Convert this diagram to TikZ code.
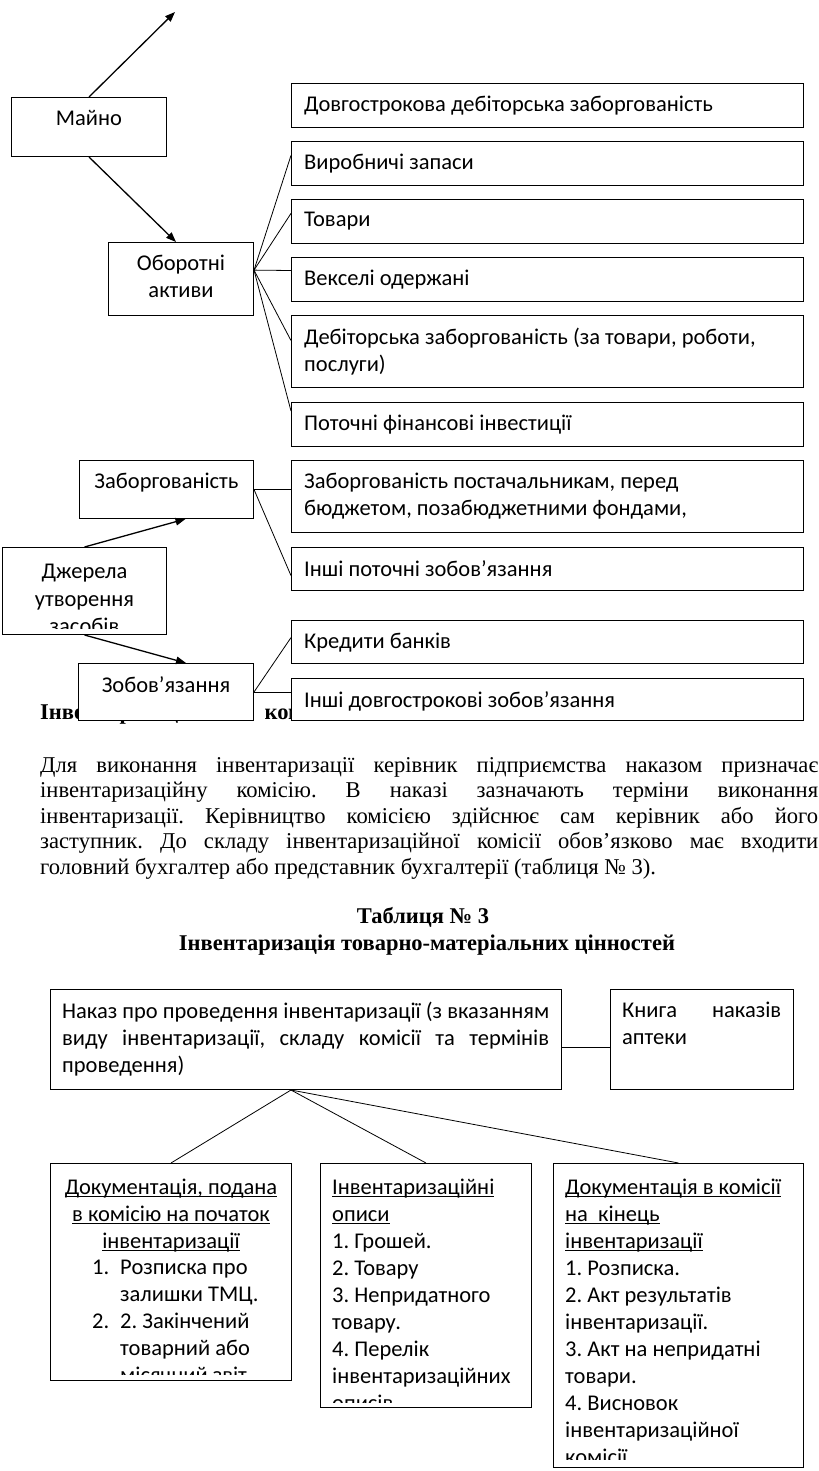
\documentclass[tikz,border=0pt]{standalone}
\usepackage{fontspec}
\setmainfont{Liberation Serif}
\newfontfamily\boxfont{Carlito}
\usetikzlibrary{arrows.meta,calc}
\newcommand{\uln}[1]{\setbox0\hbox{#1}\rlap{\rule[-2.5pt]{\wd0}{1pt}}\box0}
\frenchspacing

\tikzset{
  panel/.style={draw, line width=1pt, fill=white, anchor=north west, inner sep=0pt},
  lbl/.style={font=\boxfont\fontsize{22.5}{26.8}\selectfont, inner sep=0pt, anchor=north west, align=left},
  clbl/.style={lbl, anchor=north, align=center},
  link/.style={line width=0.8pt},
  arr/.style={line width=1.3pt, -{Triangle[length=10pt,width=7.5pt]}},
  para/.style={font=\fontsize{22.6}{25.5}\selectfont, inner sep=0pt, anchor=north west, text width=778pt, align=justify},
  heading/.style={font=\bfseries\fontsize{22.5}{26}\selectfont, inner sep=0pt},
}

\begin{document}
\begin{tikzpicture}[x=1pt,y=1pt]
\path[fill=white] (0,0) rectangle (816,-1471);

% heading partly under the boxes
\node[heading, anchor=base west] (sect) at (40,-719) {Інвентаризаційна\hspace{43pt}комісія};

% upper scheme
\node[panel, minimum width=155, minimum height=59] (maino) at (11,-97) {};
\node[clbl] (maino-t) at ([yshift=-13.3]maino.north) {Майно};
\coordinate (up) at (175,-12);

\node[panel, minimum width=145, minimum height=73] (oborot) at (108,-242) {};
\node[clbl] (oborot-t) at ([yshift=-13.3]oborot.north) {Оборотні\\активи};

\node[panel, minimum width=512, minimum height=44] (dolg) at (291,-83) {};
\node[lbl] (dolg-t) at ([shift={(13,-13.3)}]dolg.north west) {Довгострокова дебіторська заборгованість};
\node[panel, minimum width=512, minimum height=44] (vyrob) at (291,-141) {};
\node[lbl] (vyrob-t) at ([shift={(13,-13.3)}]vyrob.north west) {Виробничі запаси};
\node[panel, minimum width=512, minimum height=44] (tovary) at (291,-199) {};
\node[lbl] (tovary-t) at ([shift={(13,-13.3)}]tovary.north west) {Товари};
\node[panel, minimum width=512, minimum height=44] (veks) at (291,-257) {};
\node[lbl] (veks-t) at ([shift={(13,-13.3)}]veks.north west) {Векселі одержані};
\node[panel, minimum width=512, minimum height=72] (debit) at (291,-315) {};
\node[lbl] (debit-t) at ([shift={(13,-13.3)}]debit.north west) {Дебіторська заборгованість (за товари, роботи,\\послуги)};
\node[panel, minimum width=512, minimum height=44] (potoch) at (291,-402) {};
\node[lbl] (potoch-t) at ([shift={(13,-13.3)}]potoch.north west) {Поточні фінансові інвестиції};

\node[panel, minimum width=174, minimum height=58] (zaborg) at (79,-460) {};
\node[clbl] (zaborg-t) at ([yshift=-13.3]zaborg.north) {Заборгованість};
\node[panel, minimum width=512, minimum height=72] (zabpost) at (291,-460) {};
\node[lbl] (zabpost-t) at ([shift={(13,-13.3)}]zabpost.north west) {Заборгованість постачальникам, перед\\бюджетом, позабюджетними фондами,};
\node[panel, minimum width=512, minimum height=43] (insh) at (291,-547) {};
\node[lbl] (insh-t) at ([shift={(13,-13.3)}]insh.north west) {Інші поточні зобов’язання};

\node[panel, minimum width=164, minimum height=87] (dzher) at (2,-547) {};
\begin{scope}
  \clip ([yshift=7]dzher.south west) rectangle (dzher.north east);
  \node[clbl, font=\boxfont\fontsize{22.5}{27.5}\selectfont] (dzher-t) at ([yshift=-17]dzher.north) {Джерела\\утворення\\засобів};
\end{scope}

\node[panel, minimum width=175, minimum height=57] (zobov) at (78,-663) {};
\node[clbl] (zobov-t) at ([yshift=-13.3]zobov.north) {Зобов’язання};
\node[panel, minimum width=512, minimum height=43] (kred) at (291,-620) {};
\node[lbl] (kred-t) at ([shift={(13,-13.3)}]kred.north west) {Кредити банків};
\node[panel, minimum width=512, minimum height=42] (inshdov) at (291,-678) {};
\node[lbl] (inshdov-t) at ([shift={(13,-13.3)}]inshdov.north west) {Інші довгострокові зобов’язання};

\draw[arr] (maino.north) -- (up);
\draw[arr] (maino.south) -- ([xshift=-5]oborot.north);
\coordinate (ob) at ($(oborot.north east)!0.38!(oborot.south east)$);
\foreach \n/\f in {vyrob/0.32, tovary/0.32, veks/0.3, debit/0.35, potoch/0.2}
  \draw[link] (ob) -- ($(\n.north west)!\f!(\n.south west)$);
\draw[link] (zaborg.east) -- (zaborg.east -| zabpost.west);
\draw[link] (zaborg.east) -- ($(insh.north west)!0.65!(insh.south west)$);
\draw[arr] (dzher.north) -- ([xshift=19]zaborg.south);
\draw[arr] (dzher.south) -- ([xshift=20]zobov.north);
\draw[link] (zobov.east) -- ($(kred.north west)!0.4!(kred.south west)$);
\draw[link] (zobov.east) -- (zobov.east -| inshdov.west);

% text
\node[para] (intro) at (40,-757) {Для виконання інвентаризації керівник підприємства наказом призначає\linebreak
інвентаризаційну комісію. В наказі зазначають терміни виконання\linebreak
інвентаризації. Керівництво комісією здійснює сам керівник або його\linebreak
заступник. До складу інвентаризаційної комісії обов’язково має входити\linebreak
головний бухгалтер або представник бухгалтерії (таблиця № 3).};
\node[heading] (tabno) at (423,-917) {Таблиця № 3};
\node[heading] (tabtitle) at (427,-945) {Інвентаризація товарно-матеріальних цінностей};

% lower scheme
\node[panel, minimum width=511, minimum height=100] (nakaz) at (50,-989) {};
\node[lbl, text width=487pt, align=justify] (nakaz-t) at ([shift={(12,-13.3)}]nakaz.north west) {Наказ про проведення інвентаризації (з вказанням\linebreak виду інвентаризації, складу комісії та термінів\linebreak проведення)};
\node[panel, minimum width=183, minimum height=100] (knyha) at (610,-989) {};
\node[lbl, text width=159pt, align=justify] (knyha-t) at ([shift={(12,-13.3)}]knyha.north west) {Книга наказів\linebreak аптеки};

\node[panel, minimum width=241, minimum height=217] (docstart) at (50,-1163) {};
\begin{scope}
  \clip ([yshift=7]docstart.south west) rectangle (docstart.north east);
  \node[clbl, font=\boxfont\fontsize{22.5}{27}\selectfont] (docstart-t) at ([yshift=-16]docstart.north) {\uln{Документація, подана}\\\uln{в комісію на початок}\\\uln{інвентаризації}};
  \node[lbl, font=\boxfont\fontsize{22.5}{27}\selectfont] (docstart-l) at ([shift={(42,-97)}]docstart.north west) {\makebox[28pt][l]{1.}Розписка про\\\hspace*{28pt}залишки ТМЦ.\\\makebox[28pt][l]{2.}2. Закінчений\\\hspace*{28pt}товарний або\\\hspace*{28pt}місячний звіт};
\end{scope}

\node[panel, minimum width=211, minimum height=244] (opysy) at (320,-1163) {};
\begin{scope}
  \clip ([yshift=6]opysy.south west) rectangle (opysy.north east);
  \node[lbl, font=\boxfont\fontsize{22.5}{27}\selectfont] (opysy-t) at ([shift={(12,-16)}]opysy.north west) {\uln{Інвентаризаційні}\\\uln{описи}\\1. Грошей.\\2. Товару\\3. Непридатного\\товару.\\4. Перелік\\інвентаризаційних\\описів};
\end{scope}

\node[panel, minimum width=250, minimum height=304] (docend) at (553,-1163) {};
\begin{scope}
  \clip ([yshift=9]docend.south west) rectangle (docend.north east);
  \node[lbl, font=\boxfont\fontsize{22.5}{26.95}\selectfont] (docend-t) at ([shift={(12,-16)}]docend.north west) {\uln{Документація в комісії}\\\uln{на\ \ кінець}\\\uln{інвентаризації}\\1. Розписка.\\2. Акт результатів\\інвентаризації.\\3. Акт на непридатні\\товари.\\4. Висновок\\інвентаризаційної\\комісії};
\end{scope}

\draw[link] ([yshift=-8]nakaz.east) -- ([yshift=-8]knyha.west);
\coordinate (nk) at ([xshift=-15]nakaz.south);
\foreach \n in {docstart, opysy, docend}
  \draw[link] (nk) -- (\n.north);
\end{tikzpicture}
\end{document}
